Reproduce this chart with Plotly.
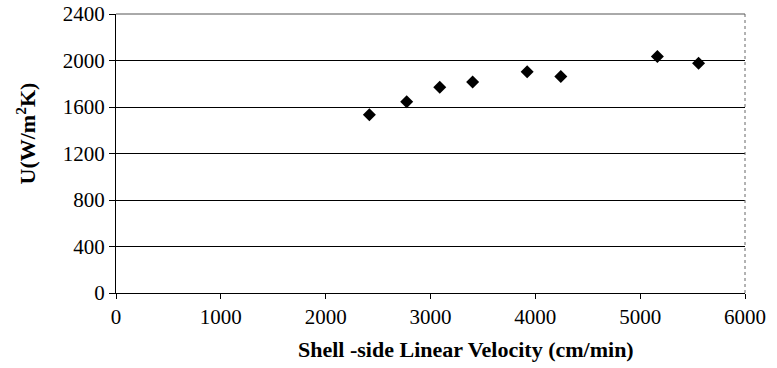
import plotly.graph_objects as go

# Shell-side linear velocity (cm/min) and overall heat transfer coefficient U (W/m²K)
velocity = [2417, 2773, 3088, 3402, 3922, 4243, 5164, 5557]
u_value = [1534, 1646, 1769, 1814, 1903, 1863, 2034, 1977]

x_ticks = [0, 1000, 2000, 3000, 4000, 5000, 6000]
y_ticks = [0, 400, 800, 1200, 1600, 2000, 2400]

serif = "Liberation Serif, Times New Roman, serif"

fig = go.Figure(
    go.Scatter(
        x=velocity,
        y=u_value,
        mode="markers",
        marker=dict(symbol="diamond", size=10, color="black"),
        showlegend=False,
        cliponaxis=False,
    )
)

fig.update_layout(
    width=777,
    height=368,
    margin=dict(l=116, r=32, t=14, b=75, autoexpand=False),
    paper_bgcolor="white",
    plot_bgcolor="white",
    font=dict(family=serif, size=21, color="black"),
    shapes=[
        # plot-area frame on the right and top edges
        dict(type="line", xref="paper", yref="paper", x0=1, x1=1, y0=0, y1=1,
             line=dict(color="#666666", width=1, dash="dot")),
        dict(type="line", xref="paper", yref="paper", x0=0, x1=1, y0=1, y1=1,
             line=dict(color="#555555", width=1)),
    ],
    annotations=[
        dict(text="<b>Shell -side Linear Velocity (cm/min)</b>",
             xref="paper", yref="paper", x=0.556, y=-0.204,
             xanchor="center", yanchor="middle", showarrow=False,
             font=dict(size=22)),
        dict(text="<b>U(W/m<sup>2</sup>K)</b>",
             xref="paper", yref="paper", x=-0.143, y=0.572,
             xanchor="center", yanchor="middle", textangle=-90, showarrow=False,
             font=dict(size=22)),
    ],
)

fig.update_xaxes(
    range=[0, 6000],
    tickvals=x_ticks,
    ticks="outside",
    ticklen=5,
    tickcolor="black",
    showline=True,
    linecolor="black",
    linewidth=1,
    showgrid=False,
    zeroline=False,
    automargin=False,
)

fig.update_yaxes(
    range=[0, 2400],
    tickvals=y_ticks,
    ticks="outside",
    ticklen=6,
    tickcolor="black",
    showline=True,
    linecolor="black",
    linewidth=1,
    showgrid=True,
    gridcolor="black",
    gridwidth=1,
    zeroline=False,
    automargin=False,
)

fig.write_html("out.html")
